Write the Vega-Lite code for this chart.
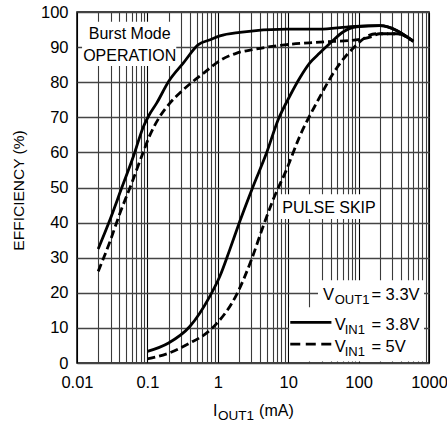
{
  "$schema": "https://vega.github.io/schema/vega-lite/v6.json",
  "width": 352,
  "height": 351,
  "autosize": {"type": "none"},
  "padding": {"left": 77, "top": 12, "right": 18, "bottom": 64},
  "config": {
    "font": "Liberation Sans",
    "view": {"stroke": "#000", "strokeWidth": 1.5},
    "axis": {"labelColor": "#000", "titleColor": "#000", "titleFontWeight": "normal", "labelFont": "Liberation Sans", "titleFont": "Liberation Sans"}
  },
  "datasets": {
    "curves": [
      {"series": "burst", "vin": "3.8V", "x": 0.02, "y": 32.5},
      {"series": "burst", "vin": "3.8V", "x": 0.0294, "y": 40.8},
      {"series": "burst", "vin": "3.8V", "x": 0.0432, "y": 49.9},
      {"series": "burst", "vin": "3.8V", "x": 0.0634, "y": 58.9},
      {"series": "burst", "vin": "3.8V", "x": 0.088, "y": 67.4},
      {"series": "burst", "vin": "3.8V", "x": 0.1035, "y": 70.3},
      {"series": "burst", "vin": "3.8V", "x": 0.136, "y": 74.1},
      {"series": "burst", "vin": "3.8V", "x": 0.2, "y": 80.2},
      {"series": "burst", "vin": "3.8V", "x": 0.325, "y": 85.5},
      {"series": "burst", "vin": "3.8V", "x": 0.53, "y": 90.7},
      {"series": "burst", "vin": "3.8V", "x": 0.78, "y": 92.1},
      {"series": "burst", "vin": "3.8V", "x": 1.07, "y": 93.2},
      {"series": "burst", "vin": "3.8V", "x": 2.05, "y": 94.2},
      {"series": "burst", "vin": "3.8V", "x": 9.5, "y": 95.1},
      {"series": "burst", "vin": "3.8V", "x": 28, "y": 95.1},
      {"series": "burst", "vin": "3.8V", "x": 67, "y": 95.7},
      {"series": "burst", "vin": "3.8V", "x": 104, "y": 96.0},
      {"series": "burst", "vin": "3.8V", "x": 200, "y": 96.1},
      {"series": "burst", "vin": "3.8V", "x": 600, "y": 91.7},
      {"series": "burst", "vin": "5V", "x": 0.02, "y": 26.1},
      {"series": "burst", "vin": "5V", "x": 0.0294, "y": 34.6},
      {"series": "burst", "vin": "5V", "x": 0.0408, "y": 42.7},
      {"series": "burst", "vin": "5V", "x": 0.06, "y": 51.3},
      {"series": "burst", "vin": "5V", "x": 0.083, "y": 58.9},
      {"series": "burst", "vin": "5V", "x": 0.109, "y": 65.0},
      {"series": "burst", "vin": "5V", "x": 0.151, "y": 70.3},
      {"series": "burst", "vin": "5V", "x": 0.21, "y": 74.1},
      {"series": "burst", "vin": "5V", "x": 0.325, "y": 77.9},
      {"series": "burst", "vin": "5V", "x": 0.63, "y": 82.6},
      {"series": "burst", "vin": "5V", "x": 1.08, "y": 86.2},
      {"series": "burst", "vin": "5V", "x": 1.86, "y": 88.3},
      {"series": "burst", "vin": "5V", "x": 3.17, "y": 89.3},
      {"series": "burst", "vin": "5V", "x": 9.5, "y": 90.7},
      {"series": "burst", "vin": "5V", "x": 28, "y": 91.4},
      {"series": "burst", "vin": "5V", "x": 104, "y": 92.2},
      {"series": "burst", "vin": "5V", "x": 153, "y": 93.0},
      {"series": "burst", "vin": "5V", "x": 200, "y": 93.8},
      {"series": "burst", "vin": "5V", "x": 350, "y": 93.8},
      {"series": "burst", "vin": "5V", "x": 600, "y": 91.6},
      {"series": "pulse", "vin": "3.8V", "x": 0.1, "y": 3.3},
      {"series": "pulse", "vin": "3.8V", "x": 0.2, "y": 5.7},
      {"series": "pulse", "vin": "3.8V", "x": 0.4, "y": 10.4},
      {"series": "pulse", "vin": "3.8V", "x": 0.77, "y": 19.0},
      {"series": "pulse", "vin": "3.8V", "x": 1.07, "y": 24.7},
      {"series": "pulse", "vin": "3.8V", "x": 1.48, "y": 32.3},
      {"series": "pulse", "vin": "3.8V", "x": 2.05, "y": 40.3},
      {"series": "pulse", "vin": "3.8V", "x": 3.17, "y": 50.3},
      {"series": "pulse", "vin": "3.8V", "x": 4.92, "y": 59.8},
      {"series": "pulse", "vin": "3.8V", "x": 7.2, "y": 69.3},
      {"series": "pulse", "vin": "3.8V", "x": 10.5, "y": 76.0},
      {"series": "pulse", "vin": "3.8V", "x": 14.6, "y": 81.2},
      {"series": "pulse", "vin": "3.8V", "x": 20.3, "y": 85.5},
      {"series": "pulse", "vin": "3.8V", "x": 28, "y": 88.3},
      {"series": "pulse", "vin": "3.8V", "x": 39, "y": 91.0},
      {"series": "pulse", "vin": "3.8V", "x": 60, "y": 94.3},
      {"series": "pulse", "vin": "3.8V", "x": 94, "y": 95.8},
      {"series": "pulse", "vin": "3.8V", "x": 200, "y": 96.1},
      {"series": "pulse", "vin": "3.8V", "x": 600, "y": 91.7},
      {"series": "pulse", "vin": "5V", "x": 0.1, "y": 1.2},
      {"series": "pulse", "vin": "5V", "x": 0.2, "y": 2.8},
      {"series": "pulse", "vin": "5V", "x": 0.4, "y": 5.7},
      {"series": "pulse", "vin": "5V", "x": 0.69, "y": 8.5},
      {"series": "pulse", "vin": "5V", "x": 0.96, "y": 11.2},
      {"series": "pulse", "vin": "5V", "x": 1.85, "y": 19.5},
      {"series": "pulse", "vin": "5V", "x": 3.0, "y": 29.4},
      {"series": "pulse", "vin": "5V", "x": 4.4, "y": 38.9},
      {"series": "pulse", "vin": "5V", "x": 6.1, "y": 46.5},
      {"series": "pulse", "vin": "5V", "x": 9.47, "y": 55.1},
      {"series": "pulse", "vin": "5V", "x": 14.6, "y": 64.6},
      {"series": "pulse", "vin": "5V", "x": 25.3, "y": 74.1},
      {"series": "pulse", "vin": "5V", "x": 48.7, "y": 84.0},
      {"series": "pulse", "vin": "5V", "x": 94, "y": 90.7},
      {"series": "pulse", "vin": "5V", "x": 130, "y": 93.0},
      {"series": "pulse", "vin": "5V", "x": 180, "y": 93.8},
      {"series": "pulse", "vin": "5V", "x": 350, "y": 93.8},
      {"series": "pulse", "vin": "5V", "x": 600, "y": 91.6}
    ],
    "boxes": [
      {"x": 0.0118, "x2": 0.257, "y": 84.6, "y2": 97.2},
      {"x": 7.4, "x2": 182, "y": 41.0, "y2": 48.1},
      {"x": 26.5, "x2": 850, "y": 15.7, "y2": 23.6},
      {"x": 10.3, "x2": 850, "y": 0.4, "y2": 15.9}
    ],
    "keys": [
      {"vin": "3.8V", "x": 10.7, "x2": 41.1, "y": 11.6},
      {"vin": "5V", "x": 10.7, "x2": 41.1, "y": 5.4}
    ],
    "labels": [
      {"role": "note", "x": 0.056, "y": 92.3, "text": "Burst Mode"},
      {"role": "note", "x": 0.056, "y": 86.1, "text": "OPERATION"},
      {"role": "note", "x": 38, "y": 42.8, "text": "PULSE SKIP"},
      {"role": "legend", "x": 31.2, "y": 17.9, "text": "V"},
      {"role": "legendsub", "x": 45.8, "y": 17.9, "text": "OUT1"},
      {"role": "legend", "x": 152, "y": 17.9, "text": "= 3.3V"},
      {"role": "legend", "x": 45.8, "y": 9.4, "text": "V"},
      {"role": "legendsub", "x": 63.5, "y": 9.4, "text": "IN1"},
      {"role": "legend", "x": 152, "y": 9.4, "text": "= 3.8V"},
      {"role": "legend", "x": 45.8, "y": 3.2, "text": "V"},
      {"role": "legendsub", "x": 63.5, "y": 3.2, "text": "IN1"},
      {"role": "legend", "x": 152, "y": 3.2, "text": "= 5V"},
      {"role": "xtitle", "x": 0.857, "y": -15.2, "text": "I"},
      {"role": "xtitlesub", "x": 1.01, "y": -15.2, "text": "OUT1"},
      {"role": "xtitle", "x": 3.86, "y": -15.2, "text": "(mA)"}
    ]
  },
  "encoding": {
    "x": {
      "field": "x",
      "type": "quantitative",
      "scale": {"type": "log", "domain": [0.01, 1000], "nice": false},
      "axis": {
        "title": null,
        "values": [0.01, 0.02, 0.03, 0.04, 0.05, 0.06, 0.07, 0.08, 0.09, 0.1, 0.2, 0.3, 0.4, 0.5, 0.6, 0.7, 0.8, 0.9, 1, 2, 3, 4, 5, 6, 7, 8, 9, 10, 20, 30, 40, 50, 60, 70, 80, 90, 100, 200, 300, 400, 500, 600, 700, 800, 900, 1000],
        "format": "~g",
        "labelExpr": "abs(log(datum.value)/LN10 - round(log(datum.value)/LN10)) < 0.001 ? datum.label : ''",
        "labelFontSize": 16.5,
        "labelPadding": 11,
        "labelFlush": false,
        "labelOverlap": false,
        "ticks": false,
        "domain": false,
        "grid": true,
        "gridWidth": 1.1,
        "gridOpacity": 1,
        "gridColor": {"condition": {"test": "abs(log(datum.value)/LN10 - round(log(datum.value)/LN10)) < 0.001", "value": "#000000"}, "value": "#3a3a3a"}
      }
    },
    "y": {
      "field": "y",
      "type": "quantitative",
      "scale": {"domain": [0, 100], "nice": false, "zero": false},
      "axis": {
        "title": "EFFICIENCY (%)",
        "titleFontSize": 15.5,
        "titleX": -59,
        "titleY": 178,
        "titleAngle": -90,
        "titleBaseline": "middle",
        "titleAlign": "center",
        "values": [0, 10, 20, 30, 40, 50, 60, 70, 80, 90, 100],
        "labelFontSize": 16.5,
        "labelPadding": 9,
        "ticks": false,
        "domain": false,
        "grid": true,
        "gridColor": "#444444",
        "gridWidth": 1.3,
        "gridOpacity": 1
      }
    }
  },
  "layer": [
    {
      "data": {"name": "boxes"},
      "mark": {"type": "rect", "fill": "#ffffff", "stroke": null},
      "encoding": {"x2": {"field": "x2"}, "y2": {"field": "y2"}}
    },
    {
      "data": {"name": "curves"},
      "transform": [{"filter": "datum.vin == '3.8V'"}],
      "mark": {"type": "line", "color": "#000", "strokeWidth": 2.8, "interpolate": "monotone"},
      "encoding": {"detail": {"field": "series"}}
    },
    {
      "data": {"name": "curves"},
      "transform": [{"filter": "datum.vin == '5V'"}],
      "mark": {"type": "line", "color": "#000", "strokeWidth": 2.8, "strokeDash": [8, 4], "interpolate": "monotone"},
      "encoding": {"detail": {"field": "series"}}
    },
    {
      "data": {"name": "keys"},
      "transform": [{"filter": "datum.vin == '3.8V'"}],
      "mark": {"type": "rule", "color": "#000", "strokeWidth": 2.8},
      "encoding": {"x2": {"field": "x2"}}
    },
    {
      "data": {"name": "keys"},
      "transform": [{"filter": "datum.vin == '5V'"}],
      "mark": {"type": "rule", "color": "#000", "strokeWidth": 2.8, "strokeDash": [10, 5.5]},
      "encoding": {"x2": {"field": "x2"}}
    },
    {
      "data": {"name": "labels"},
      "transform": [{"filter": "datum.role == 'note'"}],
      "mark": {"type": "text", "align": "center", "baseline": "alphabetic", "fontSize": 16, "color": "#000"},
      "encoding": {"text": {"field": "text"}}
    },
    {
      "data": {"name": "labels"},
      "transform": [{"filter": "datum.role == 'legend'"}],
      "mark": {"type": "text", "align": "left", "baseline": "alphabetic", "fontSize": 16.5, "color": "#000"},
      "encoding": {"text": {"field": "text"}}
    },
    {
      "data": {"name": "labels"},
      "transform": [{"filter": "datum.role == 'legendsub'"}],
      "mark": {"type": "text", "align": "left", "baseline": "alphabetic", "fontSize": 13, "dy": 4, "color": "#000"},
      "encoding": {"text": {"field": "text"}}
    },
    {
      "data": {"name": "labels"},
      "transform": [{"filter": "datum.role == 'xtitle'"}],
      "mark": {"type": "text", "align": "left", "baseline": "alphabetic", "fontSize": 16, "color": "#000"},
      "encoding": {"text": {"field": "text"}}
    },
    {
      "data": {"name": "labels"},
      "transform": [{"filter": "datum.role == 'xtitlesub'"}],
      "mark": {"type": "text", "align": "left", "baseline": "alphabetic", "fontSize": 13.5, "dy": 3.3, "color": "#000"},
      "encoding": {"text": {"field": "text"}}
    }
  ]
}
